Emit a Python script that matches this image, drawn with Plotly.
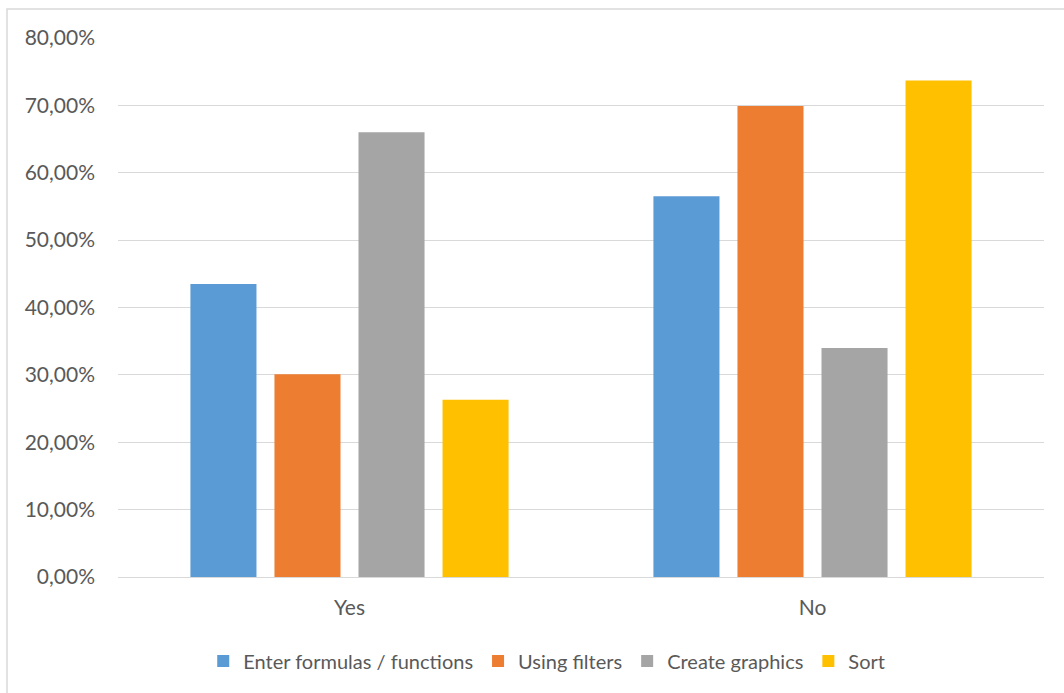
import plotly.graph_objects as go

categories = ["Yes", "No"]
series_names = ["Enter formulas / functions", "Using filters", "Create graphics", "Sort"]
enter_formulas = [0.435, 0.565]
using_filters = [0.301, 0.699]
create_graphics = [0.660, 0.340]
sort_vals = [0.263, 0.737]
colors = ["#5B9BD5", "#ED7D31", "#A5A5A5", "#FFC000"]
y_ticks = [0, 0.1, 0.2, 0.3, 0.4, 0.5, 0.6, 0.7, 0.8]

fig = go.Figure()
for name, vals, col in zip(series_names, [enter_formulas, using_filters, create_graphics, sort_vals], colors):
    fig.add_trace(go.Bar(x=categories, y=vals, name=name, marker=dict(color=col, line=dict(width=0))))

W, H = 1064, 693
ml, mr, mt, mb = 118, 20, 38, 116
pw, ph = W - ml - mr, H - mt - mb

fig.update_layout(
    width=W, height=H,
    margin=dict(l=ml, r=mr, t=mt, b=mb),
    paper_bgcolor="white", plot_bgcolor="white",
    separators=",.",
    barmode="group", bargap=0.274, bargroupgap=0.214,
    font=dict(family="Lato, 'Open Sans', sans-serif", color="#595959", size=20),
    showlegend=True,
    legend=dict(orientation="h", x=0.463, xanchor="center", y=-0.156, yanchor="middle",
                font=dict(size=20, color="#595959"), traceorder="normal", itemwidth=30,
                tracegroupgap=0),
    xaxis=dict(showgrid=False, showline=True, linecolor="#D9D9D9", linewidth=1,
               ticks="", ticklabelstandoff=12, tickfont=dict(size=21)),
    yaxis=dict(range=[0, 0.8], tickvals=y_ticks, tickformat=".2%", showgrid=True,
               gridcolor="#D9D9D9", gridwidth=1, zeroline=False, showline=False,
               ticks="", ticklabelstandoff=22, tickfont=dict(size=21)),
    shapes=[dict(type="rect", xref="paper", yref="paper",
                 x0=(7 - ml) / pw, x1=(1075 - ml) / pw,
                 y0=(H - mb - 710) / ph, y1=(H - mb - 9) / ph,
                 line=dict(color="#D9D9D9", width=1.5), fillcolor="rgba(0,0,0,0)", layer="below")],
)

fig.write_html("out.html", config={"displayModeBar": False},
               post_script="document.body.style.margin='0px';document.body.style.overflow='hidden';")
